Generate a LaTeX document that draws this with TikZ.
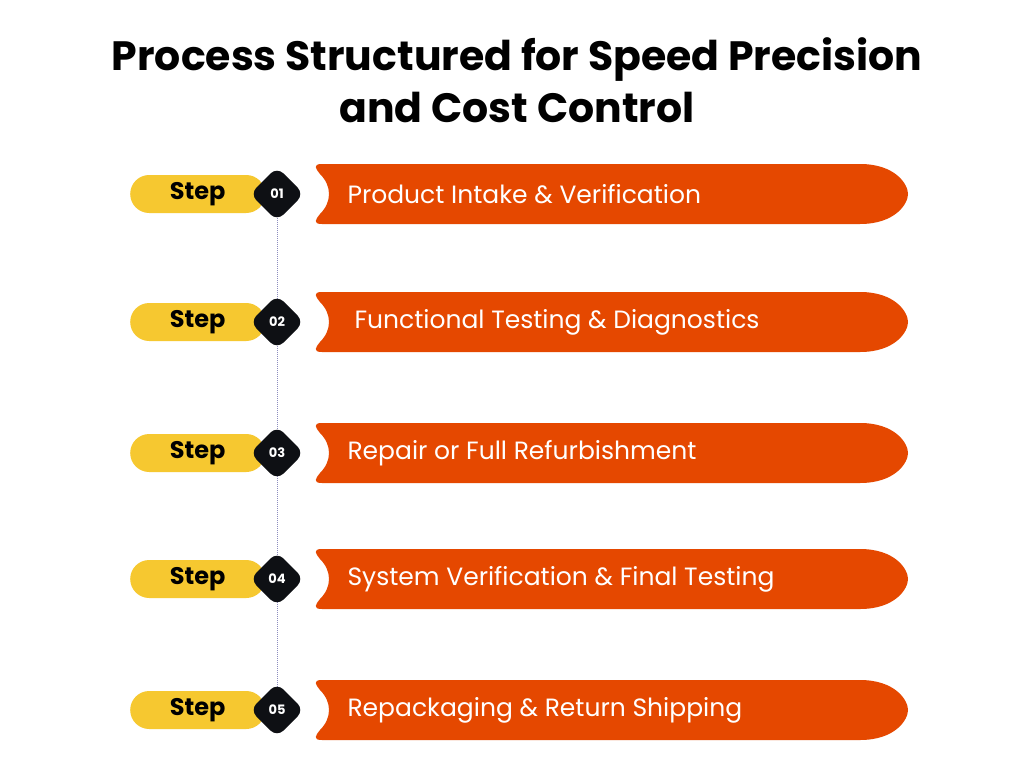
\documentclass[tikz,border=0pt]{standalone}
\usepackage{fontspec}
\setmainfont{Poppins}
\usetikzlibrary{positioning, calc}
\definecolor{colOrange}{RGB}{229, 72, 0}
\definecolor{colYellow}{RGB}{246, 200, 48}
\definecolor{colDark}{RGB}{14, 16, 20}
\definecolor{colDots}{RGB}{140, 140, 190}
\tikzset{
    steplabel/.style={fill=colYellow, rounded corners=19pt, minimum width=135pt, minimum height=38pt,
        inner sep=0pt, font=\fontsize{24}{24}\selectfont\bfseries, text=black},
    stepnum/.style={white, font=\fontsize{13}{13}\selectfont\bfseries},
    bannertext/.style={white, anchor=west, font=\fontsize{25}{25}\selectfont},
}
\begin{document}
\begin{tikzpicture}[x=1pt, y=-1pt]
    \useasboundingbox[fill=white] (0,0) rectangle (1024,768);
    % --- Title ---
    \node[font=\fontsize{41}{52}\selectfont\bfseries, align=center] (title) at (517,80)
        {Process Structured for Speed Precision\\and Cost Control};

    % --- Timeline ---
    \coordinate (top) at (277,194);
    \coordinate (bottom) at (277,710);
    \draw[colDots, densely dotted, line width=1pt] (top) -- (bottom);

    % --- Steps ---
    \foreach \y/\n/\txt/\dx in {194/01/Product Intake \& Verification/0,
                               322/02/Functional Testing \& Diagnostics/7,
                               453/03/Repair or Full Refurbishment/0,
                               579/04/System Verification \& Final Testing/0,
                               710/05/Repackaging \& Return Shipping/0} {
        % yellow pill
        \node[steplabel, anchor=west] (step\n) at (130,\y) {Step\hspace{20pt}};
        % black badge
        \fill[colDark, rounded corners=9pt] (277,\y-27) -- (304,\y) -- (277,\y+27) -- (250,\y) -- cycle;
        \node[stepnum] (num\n) at (277,\y) {\n};
        % orange banner
        \fill[colOrange] (322,\y-30) -- (860,\y-30)
            .. controls (895,\y-30) and (908,\y-10) .. (908,\y)
            .. controls (908,\y+10) and (895,\y+30) .. (860,\y+30)
            -- (322,\y+30) .. controls (312,\y+30) and (316,\y+25) .. (320,\y+20)
            .. controls (332,\y+8) and (332,\y-8) .. (320,\y-20)
            .. controls (316,\y-25) and (312,\y-30) .. (322,\y-30) -- cycle;
        \node[bannertext] (text\n) at (344+\dx,\y) {\txt};
    }
\end{tikzpicture}
\end{document}
